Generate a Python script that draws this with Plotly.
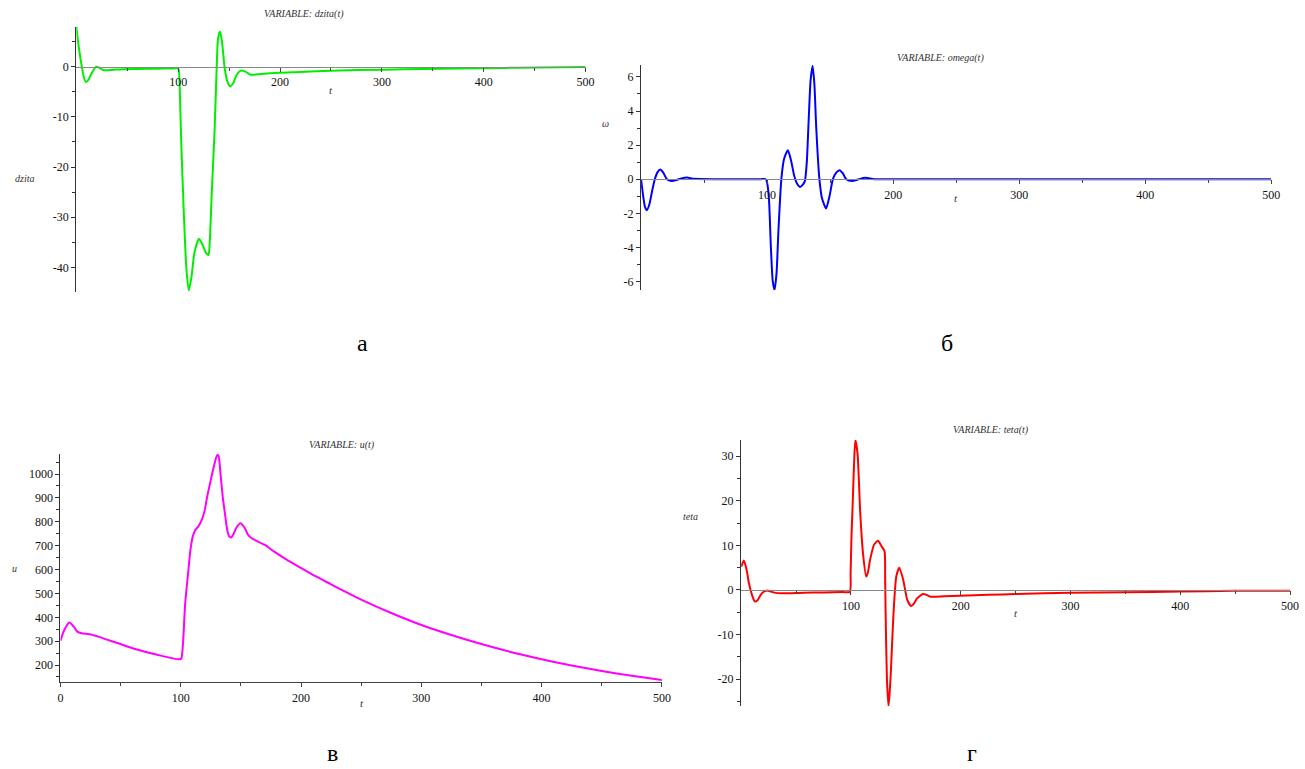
import plotly.graph_objects as go

# ---------------- data ----------------
t_dzita = [0, 2, 5.4, 7.5, 9.5, 12, 15, 19.6, 23, 27, 35, 45.5, 60, 80, 95, 99, 100.5,
           101.5, 103, 105.5, 108, 110.4, 113, 116, 120.4, 124, 127, 129.8, 131, 133,
           135.7, 137.5, 139.1, 141, 143, 145.5, 148, 151, 154, 157, 161.5, 166, 171,
           180, 190, 220, 250, 303, 340, 377, 420, 452, 500]
dzita = [8.0, 4.5, 0, -2.2, -3.05, -2.6, -1.3, 0.0, -0.3, -0.7, -0.65, -0.5, -0.45, -0.4,
         -0.35, -0.3, -0.6, -4, -15, -29, -40, -44.6, -42, -37, -34.3, -35.5, -37, -37.5, -35, -25,
         -13, -2, 5.5, 7.0, 5, 0, -2.8, -3.9, -3.3, -1.8, -0.8, -1.0, -1.6,
         -1.5, -1.3, -1.05, -0.8, -0.6, -0.48, -0.35, -0.25, -0.15, -0.05]

t_omega = [0, 1.5, 3, 4.5, 6.5, 9, 10.9, 13, 15.2, 17.5, 20.5, 24, 28, 32, 36.5, 42, 60,
           80, 95, 99, 100, 101.5, 103, 104.5, 105.9, 107.5, 109, 111.3, 113.5, 116.5, 119, 121.5,
           124, 126.1, 128.5, 130, 131.5, 133, 134.5, 136.1, 137.5, 139, 141.5, 143.5,
           146.8, 149.5, 152.2, 155, 157.5, 160, 162.8, 167.5, 172, 178, 185, 200, 300,
           400, 500]
omega = [0, -0.9, -1.6, -1.82, -1.5, -0.6, 0, 0.4, 0.57, 0.4, 0, -0.1, -0.05, 0.05, 0.1,
         0.02, 0, 0, 0, 0, -0.2, -1.2, -4, -6, -6.5, -5.5, -3, 0, 1.2, 1.7, 1.1, 0.2, -0.3, -0.45,
         -0.3, -0.1, 1.0, 3.5, 5.8, 6.65, 5.6, 3.0, 0, -1.1, -1.72, -1.0, 0, 0.4, 0.53,
         0.35, 0, -0.1, -0.02, 0.08, 0.0, 0, 0, 0, 0]

t_u = [0, 3, 7.4, 11, 14, 17.7, 24, 31.4, 48, 62.8, 81.3, 99, 100.5, 102, 103.5, 105,
       106.4, 108, 110, 112, 114.5, 117.5, 120, 122, 125.6, 129.3, 130.5, 131.5, 133, 135,
       136.7, 138.5, 140.4, 142, 144, 146, 149.6, 153.3, 156, 159, 165, 170, 177.4, 187,
       199.5, 212, 225, 237.5, 250, 275, 300, 325, 350, 375, 400, 425, 450, 475, 500]
u = [302, 345, 378, 361, 340, 333, 329, 319, 291, 266, 242, 224, 228, 300, 445, 530, 599,
     680, 738, 765, 780, 808, 850, 906, 990, 1067, 1080, 1075, 1004, 900, 836, 770, 738,
     735, 750, 773, 794, 773, 745, 731, 715, 703, 676, 645, 608, 572, 538, 505, 474, 418,
     368, 326, 288, 254, 224, 198, 175, 155, 137]

t_teta = [0, 2.5, 5, 7.1, 10, 12.5, 15, 17.8, 20.5, 23.1, 26.5, 30.2, 37.4, 57, 75, 92.5,
          99, 99.7, 100.5, 101.4, 102.8, 104, 106, 108.5, 111, 113.9, 115.5, 117.4, 121,
          124.6, 128.1, 130.6, 131.2, 131.7, 132.8, 134.2, 135.3, 136.3, 137.5, 138.8,
          141.3, 144.1, 147.7, 151.3, 154.8, 157.5, 160.2, 165.5, 169, 172.6, 185, 199.3,
          225, 250.2, 300.7, 350, 400, 448.4, 500]
teta = [5.2, 6.6, 4.5, 1.5, -1.2, -2.6, -2.3, -1.1, -0.4, -0.15, -0.3, -0.6, -0.75, -0.6,
        -0.55, -0.45, -0.45, 3.7, 12, 17.9, 28, 33.6, 30.6, 17.2, 8.2, 3.0, 4.0, 6.7, 10.1,
        11.0, 9.7, 8.7, 2, -6.7, -20, -26, -23, -18.7, -12, -5.2, 3.0, 5.0, 2.2, -2.2,
        -3.6, -3.0, -1.9, -0.9, -1.1, -1.5, -1.4, -1.3, -1.1, -0.9, -0.6, -0.5, -0.37,
        -0.2, -0.15]

# tick labels
xt_major = [100, 200, 300, 400, 500]
xt_major_u = [0, 100, 200, 300, 400, 500]
xt_minor = [50, 150, 250, 350, 450]
yt_dzita = [-40, -30, -20, -10, 0]
ym_dzita = [-45, -35, -25, -15, -5, 5]
yt_omega = [-6, -4, -2, 0, 2, 4, 6]
ym_omega = [-5, -3, -1, 1, 3, 5]
yt_u = [200, 300, 400, 500, 600, 700, 800, 900, 1000]
ym_u = [150, 250, 350, 450, 550, 650, 750, 850, 950, 1050]
yt_teta = [-20, -10, 0, 10, 20, 30]
ym_teta = [-25, -15, -5, 5, 15, 25]

W, H = 1305, 769
def fx(px):
    return px / W
def fy(py):
    return 1 - py / H

SERIF = "Liberation Serif"
tickfont = dict(family=SERIF, size=12, color="#111")

panels = [
    dict(t=t_dzita, y=dzita, color="#00ee00", xpx=(74, 588), ypx=(292, 27), yr=(-44.9, 7.9),
         yt=yt_dzita, ym=ym_dzita, xt=xt_major, cross=True, title="VARIABLE: dzita(t)",
         tpos=(304, 14), ylab="dzita", ylpos=(22, 179), tlpos=(331, 90), letter="а", lpos=(363, 343)),
    dict(t=t_omega, y=omega, color="#0000ff", xpx=(644, 1280), ypx=(290, 65), yr=(-6.5, 6.7),
         yt=yt_omega, ym=ym_omega, xt=xt_major, cross=True, title="VARIABLE: omega(t)",
         tpos=(946, 58), ylab="ω", ylpos=(608, 123), tlpos=(962, 198), letter="б", lpos=(953, 343)),
    dict(t=t_u, y=u, color="#ff00ff", xpx=(58, 665), ypx=(682, 454), yr=(129, 1084),
         yt=yt_u, ym=ym_u, xt=xt_major_u, cross=False, title="VARIABLE: u(t)",
         tpos=(342, 445), ylab="u", ylpos=(12, 568), tlpos=(362, 703), letter="в", lpos=(333, 753)),
    dict(t=t_teta, y=teta, color="#ff0000", xpx=(745, 1299), ypx=(706, 440), yr=(-26, 33.6),
         yt=yt_teta, ym=ym_teta, xt=xt_major, cross=True, title="VARIABLE: teta(t)",
         tpos=(997, 430), ylab="teta", ylpos=(694, 516), tlpos=(1022, 613), letter="г", lpos=(978, 753)),
]

fig = go.Figure()
annotations = []
for i, p in enumerate(panels, start=1):
    xa = "x" if i == 1 else f"x{i}"
    ya = "y" if i == 1 else f"y{i}"
    fig.add_trace(go.Scatter(x=p["t"], y=p["y"], mode="lines", xaxis=xa, yaxis=ya,
                             line=dict(color=p["color"], width=2, shape="spline", smoothing=0.6),
                             showlegend=False, hoverinfo="skip"))
    ydom = [fy(p["ypx"][0]), fy(p["ypx"][1])]
    xdom = [fx(p["xpx"][0]), fx(p["xpx"][1])]
    y0, y1 = p["yr"]
    xkey = "xaxis" if i == 1 else f"xaxis{i}"
    ykey = "yaxis" if i == 1 else f"yaxis{i}"
    xaxis = dict(domain=xdom, range=[0, 500], tickmode="array", tickvals=p["xt"],
                 ticktext=[str(v) for v in p["xt"]], ticks="outside", ticklen=4,
                 tickcolor="#444", showgrid=False, zeroline=False, showline=True,
                 linecolor="#888" if p["cross"] else "#444", linewidth=1.3,
                 tickfont=tickfont, fixedrange=True,
                 minor=dict(tickvals=xt_minor, ticks="outside", ticklen=3, tickcolor="#444"))
    if p["cross"]:
        xaxis.update(anchor="free",
                     position=ydom[0] + (0 - y0) / (y1 - y0) * (ydom[1] - ydom[0]))
    else:
        xaxis.update(anchor=ya)
    yaxis = dict(domain=ydom, range=[y0, y1], anchor=xa, tickmode="array", tickvals=p["yt"],
                 ticktext=[str(v) for v in p["yt"]], ticks="outside", ticklen=4,
                 tickcolor="#333", showgrid=False, zeroline=False, showline=True,
                 linecolor="#333", linewidth=1.3, tickfont=tickfont, fixedrange=True,
                 minor=dict(tickvals=p["ym"], ticks="outside", ticklen=3, tickcolor="#333"))
    fig.update_layout({xkey: xaxis, ykey: yaxis})

    annotations.append(dict(x=fx(p["tpos"][0]), y=fy(p["tpos"][1]), xref="paper", yref="paper",
                            text=f"<i>{p['title']}</i>", showarrow=False,
                            font=dict(family=SERIF, size=10, color="#333"),
                            xanchor="center", yanchor="middle"))
    annotations.append(dict(x=fx(p["ylpos"][0]), y=fy(p["ylpos"][1]), xref="paper", yref="paper",
                            text=f"<i>{p['ylab']}</i>", showarrow=False,
                            font=dict(family=SERIF, size=10, color="#333"),
                            xanchor="center", yanchor="middle"))
    annotations.append(dict(x=fx(p["tlpos"][0]), y=fy(p["tlpos"][1]), xref="paper", yref="paper",
                            text="<i>t</i>", showarrow=False,
                            font=dict(family=SERIF, size=11, color="#333"),
                            xanchor="center", yanchor="middle"))
    annotations.append(dict(x=fx(p["lpos"][0]), y=fy(p["lpos"][1]), xref="paper", yref="paper",
                            text=p["letter"], showarrow=False,
                            font=dict(family=SERIF, size=24, color="#000"),
                            xanchor="center", yanchor="middle"))

fig.update_layout(width=W, height=H, margin=dict(l=0, r=0, t=0, b=0),
                  paper_bgcolor="white", plot_bgcolor="white",
                  annotations=annotations, showlegend=False)

fig.write_html("out.html", config={"displayModeBar": False},
               post_script="document.body.style.margin='0px';document.body.style.overflow='hidden';")
